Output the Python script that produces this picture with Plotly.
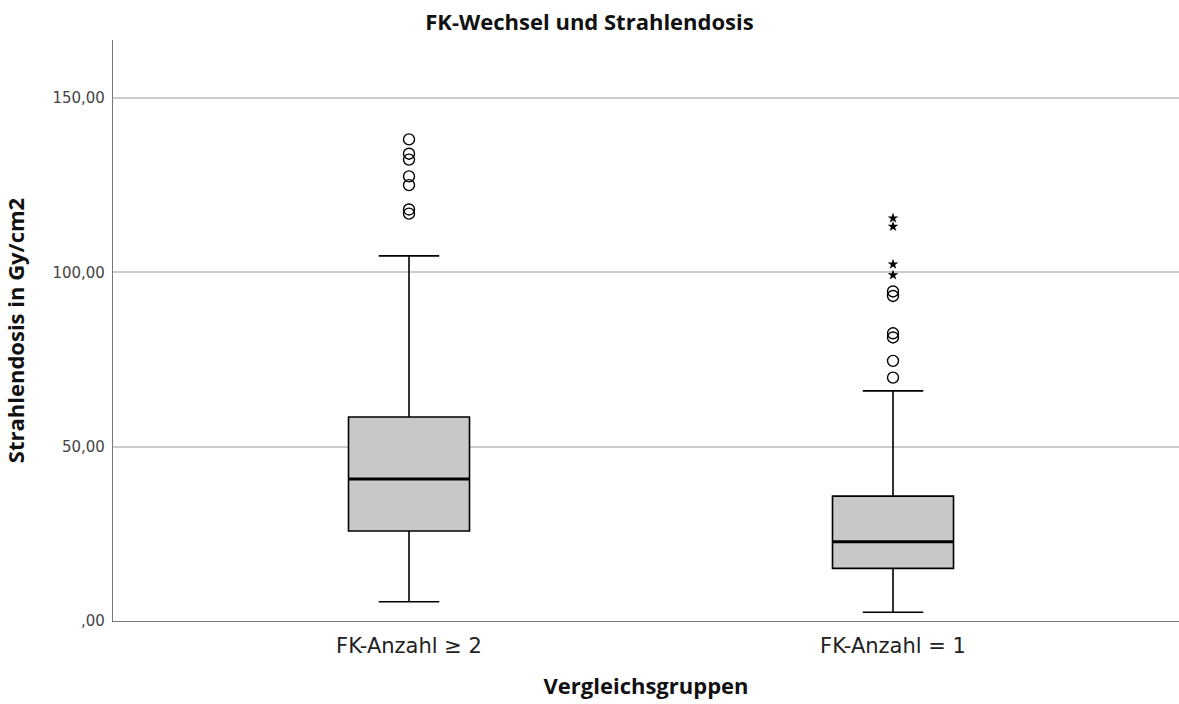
import plotly.graph_objects as go

categories = ["FK-Anzahl ≥ 2", "FK-Anzahl = 1"]
q1 = [25.8, 15.1]
median = [40.7, 22.7]
q3 = [58.5, 35.8]
lower_whisker = [5.5, 2.5]
upper_whisker = [104.7, 66.0]

outliers_g1 = [138.1, 134.0, 132.3, 127.5, 125.0, 118.0, 116.8]
outliers_g2 = [94.5, 93.2, 82.5, 81.3, 74.6, 69.8]
extremes_g2 = [115.5, 113.1, 102.3, 99.2]

y_tickvals = [0, 50, 100, 150]
y_ticktext = [",00", "50,00", "100,00", "150,00"]

TITLE_FONT = "Open Sans"
TICK_FONT = "DejaVu Sans"
BOX_WIDTH = 0.25
pos = list(range(len(categories)))

fig = go.Figure()
fig.add_trace(go.Box(
    x=pos, q1=q1, median=median, q3=q3,
    lowerfence=lower_whisker, upperfence=upper_whisker,
    width=BOX_WIDTH, whiskerwidth=0.5,
    fillcolor="#c8c8c8", line=dict(color="black", width=1.6),
    boxpoints=False, showlegend=False, hoverinfo="skip",
))
# thicker median line
for i, m in zip(pos, median):
    fig.add_trace(go.Scatter(
        x=[i - BOX_WIDTH / 2, i + BOX_WIDTH / 2], y=[m, m], mode="lines",
        line=dict(color="black", width=3), showlegend=False, hoverinfo="skip",
    ))
fig.add_trace(go.Scatter(
    x=[0] * len(outliers_g1) + [1] * len(outliers_g2),
    y=outliers_g1 + outliers_g2, mode="markers",
    marker=dict(symbol="circle-open", size=11, color="black", line=dict(width=1.4)),
    showlegend=False,
))
fig.add_trace(go.Scatter(
    x=[1] * len(extremes_g2), y=extremes_g2, mode="markers",
    marker=dict(symbol="star", size=8, color="black"),
    showlegend=False,
))

fig.update_layout(
    width=1179, height=704,
    margin=dict(l=113, r=0, t=40, b=83),
    paper_bgcolor="white", plot_bgcolor="white",
    title=dict(text="<b>FK-Wechsel und Strahlendosis</b>", x=0.5, xanchor="center",
               y=0.968, yanchor="middle", font=dict(family=TITLE_FONT, size=22, color="#111")),
    font=dict(family=TITLE_FONT, color="#222"),
)
fig.update_xaxes(
    range=[-0.6116, 1.5909], tickvals=pos, ticktext=categories,
    tickfont=dict(family=TICK_FONT, size=21, color="#222"), ticks="", ticklabelstandoff=6,
    showline=True, linecolor="#777", linewidth=1.2, showgrid=False, zeroline=False,
    title=dict(text="<b>Vergleichsgruppen</b>", font=dict(size=22, color="#111"), standoff=21),
)
fig.update_yaxes(
    range=[0, 166.6], tickvals=y_tickvals, ticktext=y_ticktext,
    tickfont=dict(family=TICK_FONT, size=15, color="#444"), ticks="", ticklabelstandoff=4,
    showline=True, linecolor="#777", linewidth=1.2,
    showgrid=True, gridcolor="#cccccc", gridwidth=1.5, zeroline=False,
    title=dict(text="<b>Strahlendosis in Gy/cm2</b>", font=dict(size=22, color="#111"), standoff=22),
)

fig.write_html("out.html", config={"displayModeBar": False},
               post_script="document.body.style.margin='0px';document.body.style.overflow='hidden';")
